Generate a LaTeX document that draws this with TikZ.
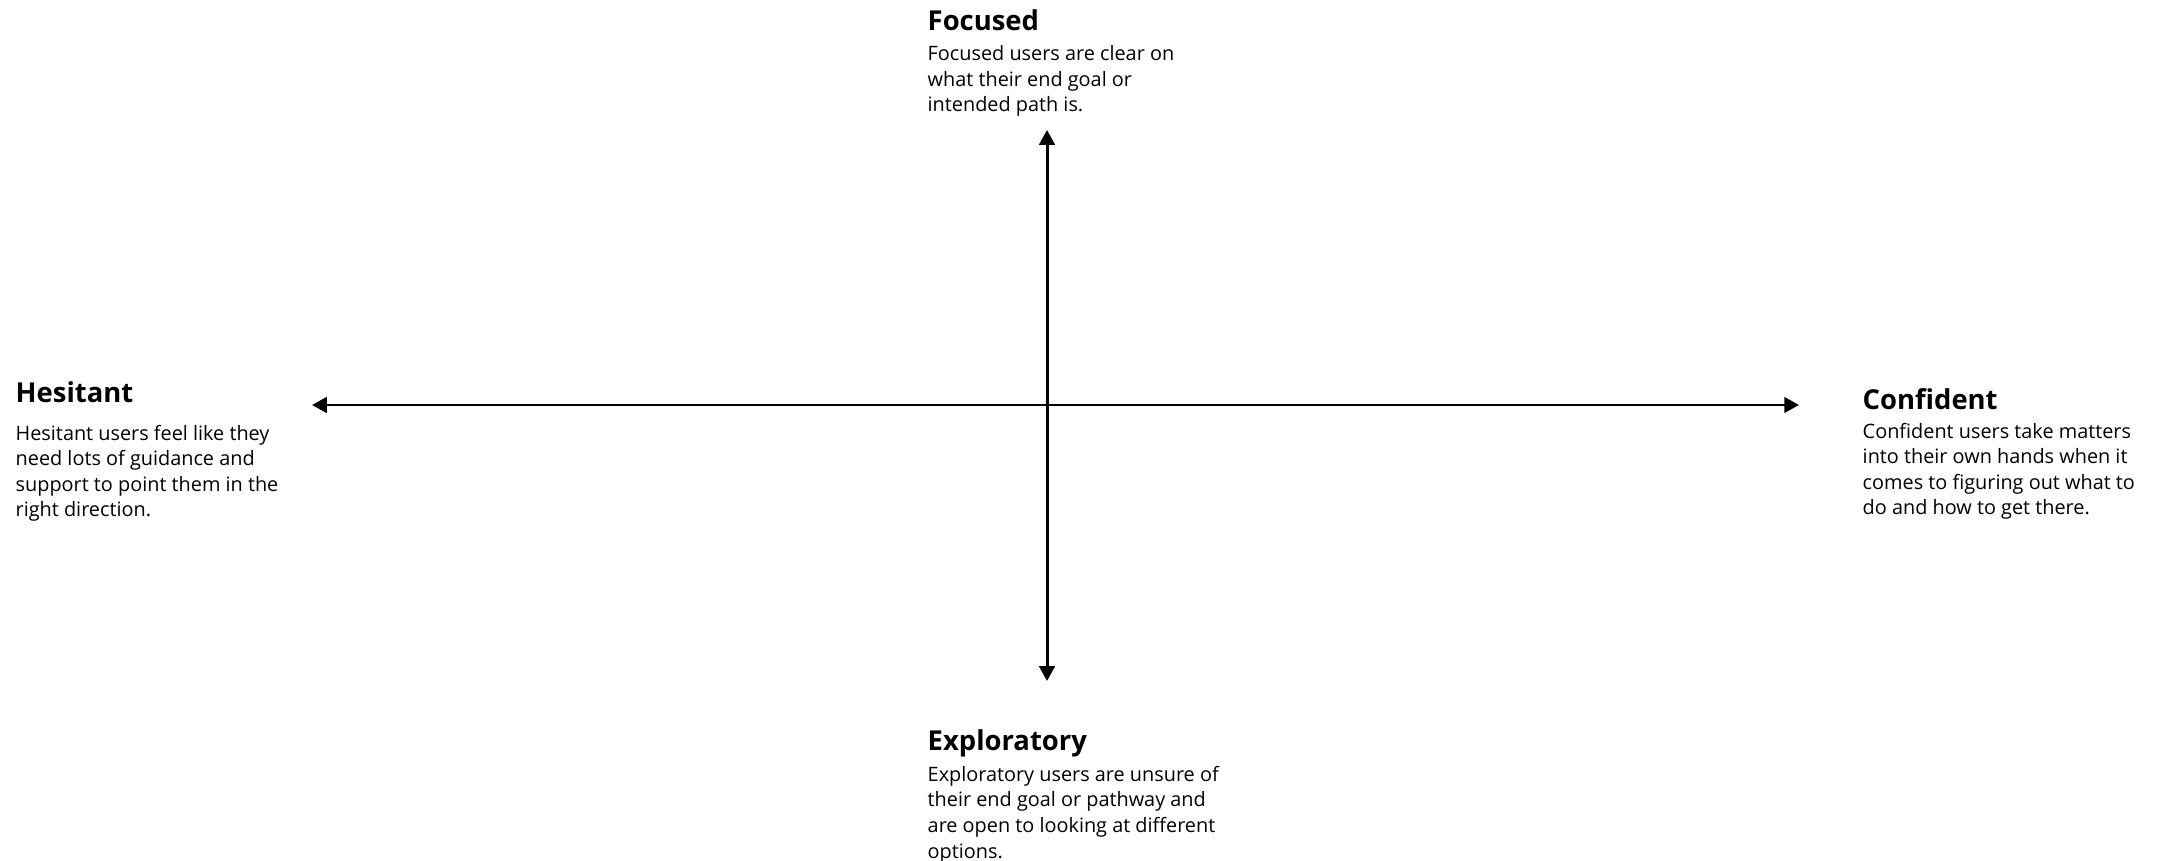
\documentclass[tikz,border=0pt]{standalone}
\usepackage{fontspec}
\setsansfont{Open Sans}
\usepackage{tikz}
\usetikzlibrary{arrows.meta, positioning}

\tikzset{
  quadtitle/.style={font=\sffamily\bfseries\fontsize{7.8}{10}\selectfont, anchor=base west, inner sep=0pt},
  % base of a multi-line node sits on its last line
  quadtext/.style={font=\sffamily\fontsize{5.65}{7.3}\selectfont, anchor=base west, inner sep=0pt, align=left},
  axis/.style={line width=0.85pt, {Triangle[length=4.2pt, width=4.4pt]}-{Triangle[length=4.2pt, width=4.4pt]}}
}

\begin{document}
\begin{tikzpicture}[font=\sffamily]
\useasboundingbox (0,0) rectangle (21.66,-8.61);

% ============================================================
% Axis end points and crossing
\coordinate (west) at (3.12,-4.05);
\coordinate (east) at (17.99,-4.05);
\coordinate (north) at (10.47,-1.30);
\coordinate (south) at (10.47,-6.81);

\draw[axis] (west) -- (east);
\draw[axis] (north) -- (south);

% ============================================================
% Top: focused
\node[quadtitle] (focused) at (9.27,-0.31) {Focused};
\node[quadtext] (focused-text) at (9.27,-1.12)
  {Focused users are clear on\\what their end goal or\\intended path is.};

% Left: hesitant
\node[quadtitle] (hesitant) at (0.15,-4.03) {Hesitant};
\node[quadtext] (hesitant-text) at (0.15,-5.17)
  {Hesitant users feel like they\\need lots of guidance and\\support to point them in the\\right direction.};

% Right: confident
\node[quadtitle] (confident) at (18.62,-4.10) {Confident};
\node[quadtext] (confident-text) at (18.62,-5.15)
  {Confident users take matters\\into their own hands when it\\comes to figuring out what to\\do and how to get there.};

% Bottom: exploratory
\node[quadtitle] (exploratory) at (9.27,-7.50) {Exploratory};
\node[quadtext] (exploratory-text) at (9.27,-8.58)
  {Exploratory users are unsure of\\their end goal or pathway and\\are open to looking at different\\options.};

\end{tikzpicture}
\end{document}
